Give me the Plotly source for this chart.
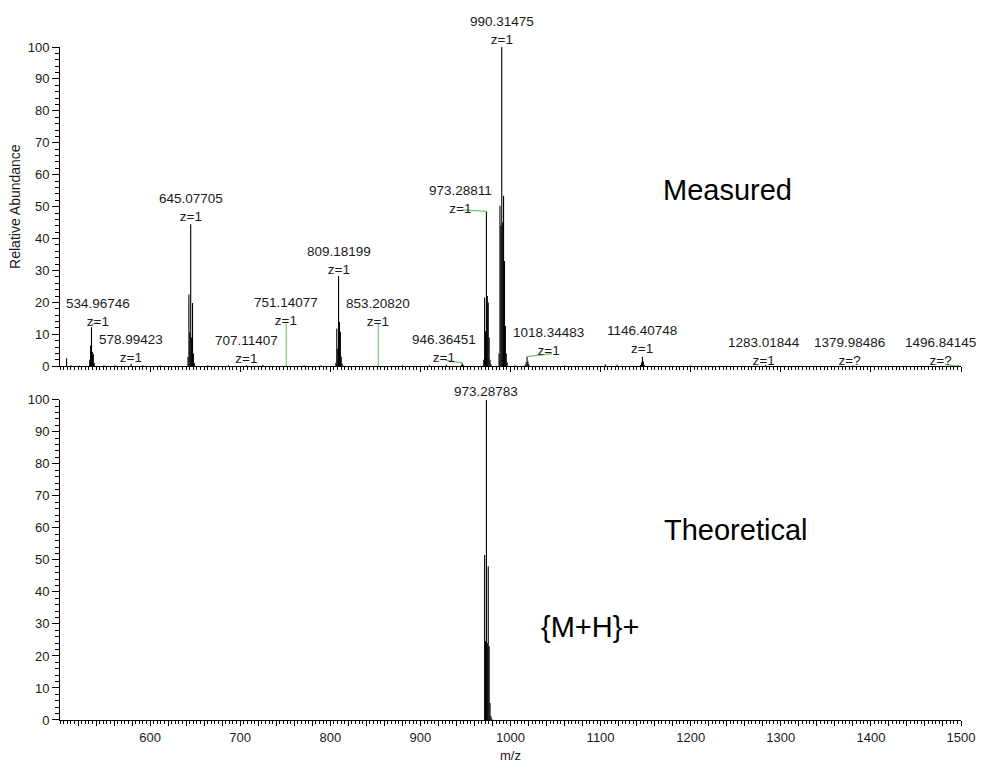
import plotly.graph_objects as go

# ---------------- data ----------------
measured_mz = [507.3, 512.0, 521.2, 532.97, 533.97, 534.96746, 535.97, 536.97, 537.97, 548.9,
               561.1, 578.99423, 592.0, 611.0, 642.08, 643.08, 644.08, 645.07705, 646.08, 647.08,
               648.08, 649.08, 664.0, 687.0, 707.11407, 725.1, 771.0, 790.0, 806.18, 807.18,
               808.18, 809.18199, 810.18, 811.18, 812.18, 813.18, 880.0, 910.0, 928.8, 945.4,
               946.36451, 947.4, 970.3, 971.29, 972.29, 973.28811, 974.29, 975.29, 976.29, 977.29,
               978.3, 987.3, 988.31, 989.31, 990.31475, 991.31, 992.31, 993.31, 994.31, 995.31,
               996.31, 1005.0, 1016.3, 1017.34, 1018.34483, 1019.34, 1020.34, 1060.0, 1105.2, 1118.3,
               1144.4, 1145.4, 1146.40748, 1147.4, 1148.4, 1200.0, 1283.01844, 1379.98486, 1496.84145]
measured_int = [2.5, 0.3, 0.2, 2.0, 6.5, 12.2, 4.5, 3.8, 1.0, 0.3,
                0.3, 0.8, 0.3, 0.2, 3.0, 22.5, 10.6, 44.5, 9.0, 19.8,
                4.0, 1.0, 0.3, 0.3, 0.3, 0.4, 0.3, 0.3, 1.0, 11.8,
                5.5, 28.3, 13.9, 10.8, 3.0, 0.8, 0.3, 0.3, 0.5, 0.4,
                1.0, 0.5, 2.0, 21.5, 11.0, 48.5, 22.0, 20.0, 9.0, 2.0,
                0.6, 4.0, 50.3, 44.0, 100.0, 45.0, 53.4, 33.0, 12.6, 4.0,
                1.2, 0.3, 0.5, 1.2, 3.0, 1.6, 0.6, 0.2, 0.6, 0.5,
                0.4, 1.2, 3.0, 1.5, 0.5, 0.2, 0.3, 0.3, 0.3]

green_mz = [751.14077, 853.20820]
green_int = [13.4, 13.2]

theo_mz = [971.29, 972.29, 973.28783, 974.29, 975.29, 976.29, 977.29, 978.29, 979.29]
theo_int = [51.5, 24.6, 100.0, 24.0, 48.0, 23.0, 5.3, 1.2, 0.4]

label_mz = [534.96746, 578.99423, 645.07705, 707.11407, 751.14077, 809.18199, 853.20820,
            946.36451, 973.28811, 990.31475, 1018.34483, 1146.40748, 1283.01844, 1379.98486, 1496.84145]
label_z = ["1", "1", "1", "1", "1", "1", "1", "1", "1", "1", "1", "1", "1", "?", "?"]

theo_label_mz = [973.28783]

x_tick_vals = list(range(520, 1501, 20))
x_tick_text = [str(v) if v % 100 == 0 else "" for v in x_tick_vals]

# ---------------- style / placement ----------------
FONT = "Liberation Sans, Arial, sans-serif"
TXT = "#1a1a1a"
GREEN = "#6cc36c"
# per-label pixel offsets of label centre from peak top (dx, dy up)
label_offsets = [(6, 15), (0, 15), (0, 17), (0, 16), (0, 12), (0, 15), (0, 12),
                 (-18, 15), (-26, 12), (0, 17), (21, 15), (0, 17), (-2, 14), (-3, 14), (-18, 14)]
# connectors: label index -> (x0, y0, x1, y1) pixel offsets relative to peak top
connectors = {0: (0, 2.5, 6.5, 5), 7: (-17, 3, 1, 0), 8: (-24, 1.5, 0, 0),
              10: (0, 0, 25, 3), 14: (-13, 1, 0, -1)}


def stems(mz, inten):
    xs, ys = [], []
    for m, i in zip(mz, inten):
        xs += [m, m, None]
        ys += [0, i, None]
    return xs, ys


all_lookup = dict(zip(measured_mz + green_mz, measured_int + green_int))
theo_lookup = dict(zip(theo_mz, theo_int))

fig = go.Figure()
mx, my = stems(measured_mz, measured_int)
fig.add_trace(go.Scatter(x=mx, y=my, mode="lines", line=dict(color="black", width=1.1),
                         xaxis="x", yaxis="y", hoverinfo="skip", showlegend=False))
gx, gy = stems(green_mz, green_int)
fig.add_trace(go.Scatter(x=gx, y=gy, mode="lines", line=dict(color=GREEN, width=1.1),
                         xaxis="x", yaxis="y", hoverinfo="skip", showlegend=False))
tx, ty = stems(theo_mz, theo_int)
fig.add_trace(go.Scatter(x=tx, y=ty, mode="lines", line=dict(color="black", width=1.1),
                         xaxis="x2", yaxis="y2", hoverinfo="skip", showlegend=False))

annotations = []
shapes = []
for k, (m, z) in enumerate(zip(label_mz, label_z)):
    inten = all_lookup[m]
    dx, dy = label_offsets[k]
    annotations.append(dict(x=m, y=inten, xref="x", yref="y", text=f"{m:.5f}<br>z={z}",
                            showarrow=False, xanchor="center", yanchor="middle",
                            xshift=dx, yshift=dy, font=dict(family=FONT, size=13.5, color=TXT)))
    if k in connectors:
        x0, y0, x1, y1 = connectors[k]
        shapes.append(dict(type="line", xref="x", yref="y", xsizemode="pixel", ysizemode="pixel",
                           xanchor=m, yanchor=inten, x0=x0, y0=y0, x1=x1, y1=y1,
                           line=dict(color=GREEN, width=1.2)))

for m in theo_label_mz:
    annotations.append(dict(x=m, y=theo_lookup[m], xref="x2", yref="y2", text=f"{m:.5f}",
                            showarrow=False, xanchor="center", yanchor="middle", yshift=8,
                            font=dict(family=FONT, size=13.5, color=TXT)))

W, H = 987, 773
L, R, T, B = 60, 20, 47, 43
PX0, PX1, PY0, PY1 = L, W - R, T, H - B

big_labels = [("Measured", 732, 192), ("Theoretical", 740, 537), ("{M+H}+", 594, 636)]
for text, px, py in big_labels:
    annotations.append(dict(x=(px - PX0) / (PX1 - PX0), y=(PY1 - py) / (PY1 - PY0),
                            xref="paper", yref="paper", text=text, showarrow=False,
                            xanchor="center", yanchor="middle",
                            font=dict(family=FONT, size=29, color="black")))

axis_common = dict(showline=True, linecolor="black", linewidth=1, ticks="outside",
                   tickcolor="black", showgrid=False, zeroline=False, mirror=False,
                   tickfont=dict(family=FONT, size=13, color=TXT))

xcommon = dict(axis_common, range=[500, 1500], tickmode="array", tickvals=x_tick_vals,
               ticktext=x_tick_text, ticklen=5, ticklabeloverflow="allow",
               minor=dict(dtick=4, tick0=500, ticklen=2.5, ticks="outside", tickcolor="black"))
ycommon = dict(axis_common, range=[0, 100], dtick=10, tick0=0, ticklen=7,
               minor=dict(dtick=2, ticklen=4, ticks="outside", tickcolor="black"))

top_lo = (PY1 - 371) / (PY1 - PY0)
bot_hi = (PY1 - 405) / (PY1 - PY0)

fig.update_layout(
    width=W, height=H,
    margin=dict(l=L, r=R, t=T, b=B, pad=0),
    paper_bgcolor="white", plot_bgcolor="white",
    showlegend=False,
    xaxis=dict(xcommon, anchor="y", domain=[0, 1], showticklabels=False),
    xaxis2=dict(xcommon, anchor="y2", domain=[0, 1], matches="x",
                title=dict(text="m/z", font=dict(family=FONT, size=13, color=TXT), standoff=7)),
    yaxis=dict(ycommon, domain=[top_lo, 1], anchor="x",
               title=dict(text="Relative Abundance", font=dict(family=FONT, size=14, color=TXT),
                          standoff=3)),
    yaxis2=dict(ycommon, domain=[0, bot_hi], anchor="x2"),
    annotations=annotations,
    shapes=shapes,
)

fig.write_html("out.html")
